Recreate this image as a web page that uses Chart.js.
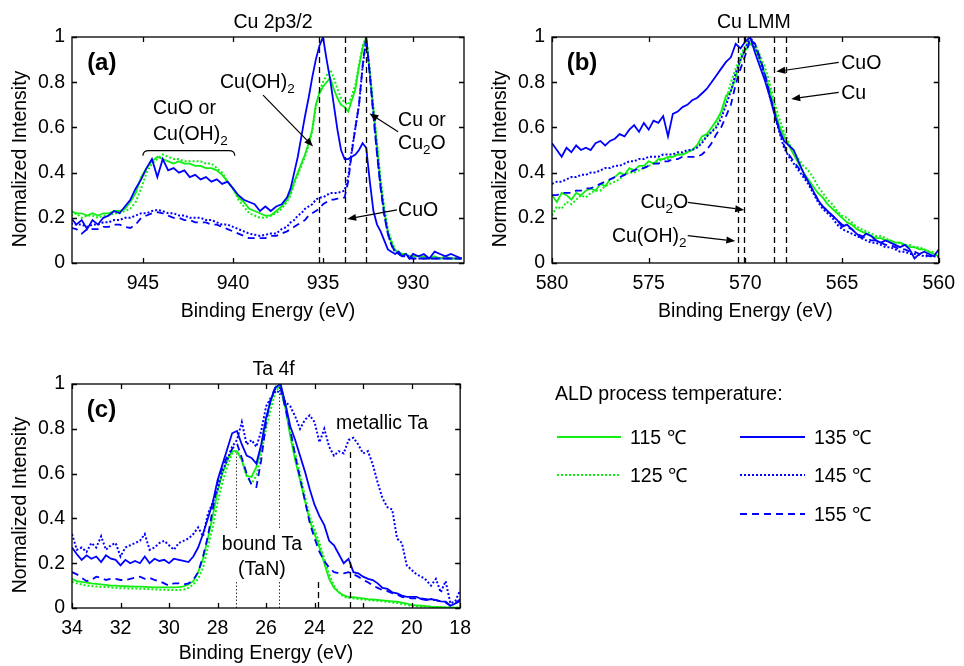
<!DOCTYPE html>
<html><head><meta charset="utf-8">
<script src="https://cdn.jsdelivr.net/npm/chart.js@4.4.1/dist/chart.umd.min.js"></script>
<style>
html,body{margin:0;padding:0;background:#fff;}
#wrap{position:relative;width:964px;height:666px;overflow:hidden;background:#fff;}
canvas{position:absolute;}
#legend{position:absolute;left:0;top:0;}
</style></head><body>
<div id="wrap">
<canvas id="ca" width="480" height="330" style="left:0;top:0;width:480px;height:330px"></canvas>
<canvas id="cb" width="484" height="330" style="left:480px;top:0;width:484px;height:330px"></canvas>
<canvas id="cc" width="480" height="326" style="left:0;top:340px;width:480px;height:326px"></canvas>
<svg id="legend" width="964" height="666" xmlns="http://www.w3.org/2000/svg"></svg>
</div>
<script>
// ---------------- DATA ----------------
const seriesLabels = ['115 \u2103', '125 \u2103', '135 \u2103', '145 \u2103', '155 \u2103'];
const legendTitle = 'ALD process temperature:';
const yTicks = [0, 0.2, 0.4, 0.6, 0.8, 1];

// Panel (a): Cu 2p3/2
const xTicksA = [945, 940, 935, 930];
const energyA = [949.0,948.7,948.4,948.1,947.8,947.5,947.2,946.9,946.6,946.3,
  946.0,945.7,945.4,945.1,944.8,944.5,944.2,943.9,943.6,943.3,
  943.0,942.7,942.4,942.1,941.8,941.5,941.2,940.9,940.6,940.3,
  940.0,939.7,939.4,939.1,938.8,938.5,938.2,937.9,937.6,937.3,
  937.0,936.8,936.6,936.4,936.2,936.0,935.8,935.6,935.4,935.2,
  935.0,934.8,934.6,934.4,934.2,934.0,933.8,933.6,933.4,933.2,
  933.0,932.8,932.6,932.4,932.2,932.0,931.8,931.6,931.4,931.2,
  931.0,930.8,930.6,930.4,930.2,930.0,929.7,929.4,929.1,928.8,
  928.5,928.2,927.9,927.6,927.3];
const a115 = [0.23,0.22,0.22,0.21,0.22,0.21,0.22,0.22,0.23,0.23,
  0.24,0.27,0.31,0.38,0.42,0.45,0.47,0.46,0.45,0.44,
  0.45,0.44,0.44,0.43,0.43,0.42,0.42,0.41,0.39,0.36,
  0.33,0.29,0.27,0.24,0.23,0.22,0.21,0.21,0.23,0.25,
  0.28,0.31,0.36,0.40,0.44,0.48,0.53,0.59,0.70,0.75,
  0.78,0.80,0.82,0.77,0.73,0.70,0.69,0.67,0.72,0.77,
  0.87,0.95,1.0,0.84,0.68,0.52,0.35,0.23,0.14,0.09,
  0.055,0.05,0.04,0.04,0.03,0.03,0.03,0.03,0.02,0.03,
  0.02,0.03,0.02,0.02,0.02];
const a125 = [0.21,0.22,0.20,0.21,0.21,0.20,0.21,0.21,0.22,0.22,
  0.23,0.24,0.27,0.33,0.40,0.44,0.46,0.48,0.47,0.46,
  0.46,0.45,0.45,0.45,0.45,0.44,0.44,0.42,0.40,0.36,
  0.33,0.28,0.25,0.22,0.21,0.20,0.20,0.21,0.22,0.24,
  0.27,0.30,0.35,0.39,0.43,0.47,0.52,0.58,0.69,0.76,
  0.80,0.83,0.855,0.82,0.77,0.73,0.71,0.70,0.74,0.79,
  0.88,0.96,1.0,0.85,0.69,0.53,0.37,0.25,0.15,0.10,
  0.06,0.05,0.04,0.04,0.03,0.03,0.03,0.02,0.02,0.02,
  0.02,0.02,0.02,0.02,0.02];
const a135 = [0.20,0.17,0.19,0.15,0.19,0.17,0.20,0.21,0.23,0.22,
  0.25,0.28,0.33,0.37,0.42,0.46,0.38,0.46,0.41,0.42,
  0.40,0.41,0.38,0.39,0.37,0.38,0.36,0.37,0.35,0.36,
  0.33,0.30,0.28,0.27,0.26,0.23,0.25,0.23,0.25,0.26,
  0.29,0.33,0.40,0.47,0.56,0.65,0.73,0.82,0.90,0.96,
  1.0,0.90,0.81,0.70,0.59,0.50,0.46,0.46,0.47,0.48,
  0.50,0.53,0.51,0.36,0.23,0.17,0.14,0.10,0.06,0.05,
  0.04,0.05,0.03,0.04,0.02,0.04,0.03,0.04,0.02,0.05,
  0.04,0.03,0.04,0.03,0.02];
const a145 = [0.175,0.17,0.17,0.16,0.17,0.17,0.18,0.18,0.19,0.19,
  0.20,0.20,0.21,0.22,0.22,0.23,0.235,0.23,0.22,0.22,
  0.21,0.21,0.20,0.20,0.20,0.19,0.19,0.18,0.17,0.17,
  0.16,0.15,0.14,0.13,0.125,0.12,0.125,0.13,0.13,0.15,
  0.16,0.18,0.19,0.21,0.22,0.24,0.25,0.26,0.28,0.29,
  0.29,0.30,0.31,0.31,0.31,0.315,0.32,0.38,0.50,0.60,
  0.70,0.87,0.99,0.84,0.66,0.49,0.34,0.22,0.13,0.08,
  0.05,0.04,0.03,0.03,0.03,0.02,0.02,0.02,0.02,0.02,
  0.02,0.02,0.02,0.02,0.02];
const a155 = [0.155,0.15,0.13,0.15,0.15,0.15,0.16,0.16,0.17,0.17,
  0.16,0.155,0.17,0.20,0.21,0.22,0.225,0.22,0.21,0.20,
  0.20,0.19,0.19,0.18,0.18,0.18,0.17,0.17,0.16,0.15,
  0.14,0.13,0.12,0.11,0.11,0.11,0.11,0.12,0.12,0.13,
  0.14,0.15,0.16,0.17,0.18,0.19,0.21,0.22,0.23,0.24,
  0.26,0.27,0.28,0.28,0.285,0.285,0.29,0.36,0.49,0.60,
  0.70,0.87,1.0,0.83,0.65,0.48,0.33,0.21,0.13,0.08,
  0.05,0.04,0.03,0.03,0.02,0.02,0.02,0.02,0.02,0.02,
  0.02,0.02,0.02,0.02,0.02];

// Panel (b): Cu LMM
const xTicksB = [580, 575, 570, 565, 560];
const energyB = [580.00,579.75,579.50,579.25,579.00,578.75,578.50,578.25,578.00,577.75,
  577.50,577.25,577.00,576.75,576.50,576.25,576.00,575.75,575.50,575.25,
  575.00,574.75,574.50,574.25,574.00,573.75,573.50,573.25,573.00,572.75,
  572.50,572.25,572.00,571.75,571.50,571.25,571.00,570.75,570.50,570.25,
  570.00,569.75,569.50,569.25,569.00,568.75,568.50,568.25,568.00,567.75,
  567.50,567.25,567.00,566.75,566.50,566.25,566.00,565.75,565.50,565.25,
  565.00,564.75,564.50,564.25,564.00,563.75,563.50,563.25,563.00,562.75,
  562.50,562.25,562.00,561.75,561.50,561.25,561.00,560.75,560.50,560.25,
  560.00];
const b115 = [0.30,0.27,0.31,0.30,0.28,0.31,0.30,0.32,0.33,0.32,
  0.35,0.34,0.37,0.38,0.40,0.39,0.42,0.41,0.43,0.43,
  0.45,0.44,0.46,0.46,0.47,0.47,0.48,0.48,0.49,0.50,
  0.52,0.56,0.57,0.60,0.63,0.67,0.74,0.76,0.82,0.90,
  0.94,0.97,0.95,0.90,0.84,0.77,0.68,0.61,0.56,0.52,
  0.48,0.44,0.40,0.37,0.34,0.31,0.29,0.26,0.24,0.22,
  0.20,0.18,0.17,0.15,0.14,0.13,0.12,0.11,0.11,0.10,
  0.10,0.09,0.09,0.08,0.07,0.07,0.06,0.06,0.05,0.04,
  0.03];
const b125 = [0.21,0.25,0.24,0.27,0.26,0.28,0.30,0.29,0.31,0.32,
  0.32,0.34,0.35,0.36,0.37,0.39,0.40,0.40,0.41,0.42,
  0.43,0.44,0.45,0.46,0.46,0.47,0.48,0.48,0.49,0.50,
  0.52,0.54,0.56,0.58,0.61,0.66,0.72,0.80,0.86,0.92,
  0.96,0.99,0.97,0.92,0.87,0.80,0.71,0.64,0.58,0.53,
  0.49,0.46,0.43,0.41,0.38,0.34,0.31,0.28,0.26,0.23,
  0.21,0.20,0.18,0.16,0.15,0.14,0.13,0.12,0.12,0.11,
  0.10,0.09,0.09,0.08,0.08,0.07,0.07,0.06,0.05,0.05,
  0.04];
const b135 = [0.53,0.50,0.47,0.51,0.49,0.52,0.50,0.51,0.50,0.53,
  0.54,0.52,0.54,0.55,0.57,0.56,0.59,0.61,0.58,0.62,
  0.59,0.63,0.62,0.65,0.56,0.66,0.67,0.69,0.70,0.72,
  0.73,0.75,0.77,0.80,0.83,0.86,0.89,0.91,0.97,0.95,
  0.98,1.00,0.93,0.87,0.81,0.74,0.66,0.59,0.54,0.52,
  0.50,0.45,0.40,0.36,0.32,0.28,0.25,0.23,0.21,0.19,
  0.16,0.17,0.15,0.13,0.11,0.13,0.12,0.10,0.09,0.10,
  0.09,0.08,0.07,0.08,0.06,0.02,0.04,0.05,0.04,0.03,
  0.06];
const b145 = [0.35,0.36,0.36,0.37,0.38,0.38,0.39,0.39,0.40,0.40,
  0.41,0.42,0.42,0.43,0.43,0.44,0.45,0.45,0.46,0.46,
  0.47,0.47,0.47,0.48,0.48,0.48,0.49,0.49,0.50,0.50,
  0.51,0.53,0.56,0.58,0.60,0.64,0.70,0.76,0.84,0.90,
  0.95,1.00,0.96,0.90,0.83,0.74,0.66,0.58,0.51,0.47,
  0.44,0.41,0.38,0.35,0.31,0.27,0.24,0.22,0.20,0.17,
  0.15,0.14,0.13,0.12,0.11,0.10,0.09,0.09,0.08,0.07,
  0.07,0.06,0.05,0.05,0.04,0.04,0.035,0.03,0.03,0.03,
  0.025];
const b155 = [0.30,0.30,0.31,0.31,0.31,0.32,0.32,0.33,0.33,0.34,
  0.35,0.36,0.37,0.38,0.38,0.39,0.40,0.41,0.42,0.42,
  0.43,0.44,0.44,0.45,0.45,0.46,0.46,0.47,0.47,0.47,
  0.47,0.48,0.50,0.53,0.57,0.60,0.65,0.70,0.79,0.86,
  0.92,0.99,0.97,0.91,0.84,0.75,0.67,0.59,0.52,0.48,
  0.45,0.42,0.39,0.36,0.32,0.28,0.25,0.23,0.21,0.19,
  0.17,0.16,0.15,0.13,0.12,0.11,0.10,0.10,0.09,0.08,
  0.08,0.07,0.06,0.06,0.05,0.05,0.04,0.04,0.03,0.03,
  0.03];

// Panel (c): Ta 4f
const xTicksC = [34, 32, 30, 28, 26, 24, 22, 20, 18];
const energyC = [34.0,33.8,33.6,33.4,33.2,33.0,32.8,32.6,32.4,32.2,
  32.0,31.8,31.6,31.4,31.2,31.0,30.8,30.6,30.4,30.2,
  30.0,29.8,29.6,29.4,29.2,29.0,28.8,28.6,28.4,28.2,
  28.0,27.8,27.6,27.4,27.2,27.0,26.8,26.6,26.4,26.2,
  26.0,25.8,25.6,25.4,25.2,25.0,24.8,24.6,24.4,24.2,
  24.0,23.8,23.6,23.4,23.2,23.0,22.8,22.6,22.4,22.2,
  22.0,21.8,21.6,21.4,21.2,21.0,20.8,20.6,20.4,20.2,
  20.0,19.8,19.6,19.4,19.2,19.0,18.8,18.6,18.4,18.2,
  18.0];
const c115 = [0.13,0.12,0.117,0.113,0.11,0.108,0.105,0.103,0.10,0.10,
  0.098,0.097,0.096,0.095,0.095,0.094,0.093,0.092,0.092,0.092,
  0.092,0.092,0.093,0.097,0.105,0.12,0.16,0.22,0.31,0.41,
  0.52,0.60,0.66,0.70,0.70,0.66,0.59,0.585,0.63,0.72,
  0.84,0.93,0.99,0.98,0.89,0.765,0.66,0.57,0.48,0.39,
  0.33,0.27,0.20,0.13,0.09,0.07,0.056,0.05,0.048,0.045,
  0.043,0.04,0.038,0.036,0.034,0.032,0.03,0.028,0.024,0.02,
  0.014,0.012,0.01,0.008,0.006,0.005,0.004,0.003,0.002,0.002,
  0.002];
const c125 = [0.117,0.11,0.105,0.10,0.098,0.096,0.095,0.094,0.092,0.09,
  0.088,0.088,0.087,0.087,0.086,0.085,0.084,0.083,0.082,0.081,
  0.08,0.08,0.08,0.082,0.09,0.105,0.13,0.18,0.27,0.36,
  0.47,0.56,0.63,0.69,0.70,0.66,0.59,0.555,0.59,0.69,
  0.80,0.89,0.97,0.99,0.91,0.78,0.69,0.60,0.50,0.41,
  0.35,0.29,0.22,0.15,0.10,0.07,0.05,0.045,0.043,0.04,
  0.038,0.036,0.034,0.032,0.03,0.028,0.025,0.022,0.018,0.014,
  0.01,0.008,0.007,0.006,0.005,0.004,0.003,0.002,0.002,0.001,
  0.001];
const c135 = [0.27,0.24,0.215,0.235,0.22,0.23,0.205,0.235,0.22,0.215,
  0.19,0.215,0.20,0.21,0.20,0.23,0.20,0.22,0.21,0.215,
  0.20,0.22,0.215,0.21,0.205,0.23,0.27,0.33,0.40,0.47,
  0.57,0.64,0.71,0.78,0.79,0.73,0.68,0.67,0.645,0.73,
  0.85,0.93,0.985,1.0,0.91,0.81,0.75,0.68,0.61,0.53,
  0.46,0.41,0.37,0.30,0.28,0.24,0.20,0.22,0.16,0.155,
  0.14,0.13,0.125,0.11,0.09,0.085,0.07,0.065,0.055,0.05,
  0.05,0.05,0.04,0.035,0.04,0.035,0.03,0.028,0.01,0.02,
  0.04];
const c145 = [0.33,0.26,0.27,0.25,0.29,0.27,0.32,0.26,0.28,0.29,
  0.23,0.27,0.28,0.29,0.30,0.33,0.26,0.27,0.29,0.30,
  0.28,0.26,0.29,0.30,0.31,0.33,0.36,0.32,0.42,0.47,
  0.53,0.61,0.66,0.72,0.75,0.83,0.73,0.75,0.72,0.79,
  0.90,0.94,0.97,0.96,0.92,0.90,0.855,0.80,0.84,0.86,
  0.83,0.74,0.80,0.72,0.68,0.70,0.69,0.75,0.76,0.73,
  0.69,0.70,0.64,0.56,0.49,0.45,0.44,0.31,0.29,0.19,
  0.17,0.15,0.14,0.125,0.10,0.13,0.07,0.12,0.02,0.03,
  0.08];
const c155 = [0.16,0.15,0.135,0.12,0.125,0.14,0.135,0.125,0.13,0.13,
  0.125,0.125,0.13,0.135,0.14,0.13,0.135,0.125,0.12,0.11,
  0.10,0.11,0.11,0.105,0.11,0.125,0.16,0.23,0.32,0.44,
  0.56,0.63,0.675,0.71,0.735,0.67,0.60,0.55,0.54,0.66,
  0.83,0.94,0.99,0.98,0.89,0.795,0.68,0.58,0.48,0.38,
  0.31,0.25,0.21,0.18,0.16,0.155,0.155,0.16,0.15,0.14,
  0.125,0.115,0.10,0.09,0.08,0.075,0.066,0.06,0.05,0.045,
  0.043,0.043,0.043,0.04,0.036,0.035,0.03,0.025,0.01,0.02,
  0.03];

// ---------------- STYLE ----------------
const FONT = '"Liberation Sans", Arial, Helvetica, sans-serif';
const FS = 19.5;
const GREEN = '#11ee11';
const BLUE = '#0000ff';
const STY = [
  {color: GREEN, dash: [], width: 1.8, order: 3},
  {color: GREEN, dash: [2, 2], width: 2, order: 4},
  {color: BLUE, dash: [], width: 1.8, order: 0},
  {color: BLUE, dash: [2, 2], width: 2, order: 1},
  {color: BLUE, dash: [7, 5], width: 1.8, order: 2}
];

function buildDatasets(energy, list) {
  return list.map((vals, i) => ({
    label: seriesLabels[i],
    data: energy.map((e, k) => ({x: e, y: vals[k]})),
    borderColor: STY[i].color,
    borderWidth: STY[i].width,
    borderDash: STY[i].dash,
    pointRadius: 0,
    fill: false,
    tension: 0,
    order: STY[i].order
  }));
}

function drawRich(ctx, parts, x, y, align) {
  const main = FS + 'px ' + FONT, sub = '13.5px ' + FONT;
  let total = 0;
  parts.forEach(p => { ctx.font = p[1] ? sub : main; total += ctx.measureText(p[0]).width; });
  let cx = align === 'center' ? x - total / 2 : x;
  ctx.textAlign = 'left';
  ctx.textBaseline = 'alphabetic';
  parts.forEach(p => {
    ctx.font = p[1] ? sub : main;
    ctx.fillText(p[0], cx, p[1] ? y + 5 : y);
    cx += ctx.measureText(p[0]).width;
  });
}

function arrow(ctx, x0, y0, x1, y1) {
  const ang = Math.atan2(y1 - y0, x1 - x0), L = 9, W = 3.5;
  const bx = x1 - L * Math.cos(ang), by = y1 - L * Math.sin(ang);
  ctx.beginPath(); ctx.moveTo(x0, y0); ctx.lineTo(bx, by); ctx.stroke();
  ctx.beginPath();
  ctx.moveTo(x1, y1);
  ctx.lineTo(bx + W * Math.sin(ang), by - W * Math.cos(ang));
  ctx.lineTo(bx - W * Math.sin(ang), by + W * Math.cos(ang));
  ctx.closePath(); ctx.fill();
}

function annotPlugin(spec) {
  return {
    id: 'annot',
    afterDatasetsDraw(chart) {
      const {ctx, scales: {x, y}} = chart;
      const X = e => x.getPixelForValue(e), Y = v => y.getPixelForValue(v);
      ctx.save();
      (spec.vlines || []).forEach(l => {
        ctx.beginPath();
        ctx.setLineDash(l.dash); ctx.lineWidth = l.w; ctx.strokeStyle = l.c;
        const px = Math.round(X(l.e)) + 0.5;
        l.segs.forEach(s => { ctx.moveTo(px, Y(s[0])); ctx.lineTo(px, Y(s[1])); });
        ctx.stroke();
      });
      ctx.setLineDash([]);
      ctx.strokeStyle = '#000'; ctx.fillStyle = '#000'; ctx.lineWidth = 1.2;
      (spec.arrows || []).forEach(a => arrow(ctx, X(a[0]), Y(a[1]), X(a[2]), Y(a[3])));
      if (spec.brace) {
        const b = spec.brace, x0 = X(b.e0), x1 = X(b.e1), yt = Y(b.vTop), ye = Y(b.vEnd);
        ctx.beginPath();
        ctx.moveTo(x0, ye); ctx.quadraticCurveTo(x0, yt, x0 + 6, yt);
        ctx.lineTo(x1 - 6, yt); ctx.quadraticCurveTo(x1, yt, x1, ye);
        ctx.stroke();
      }
      (spec.texts || []).forEach(t => drawRich(ctx, t.parts, X(t.e), Y(t.v), t.align));
      ctx.font = 'bold 24px ' + FONT; ctx.textAlign = 'left'; ctx.textBaseline = 'alphabetic';
      ctx.fillText(spec.label.t, X(spec.label.e), Y(spec.label.v));
      ctx.restore();
    },
    afterDraw(chart) {
      const {ctx, chartArea: a, scales: {x, y}} = chart;
      ctx.save();
      ctx.strokeStyle = '#000'; ctx.lineWidth = 1.3; ctx.setLineDash([]);
      ctx.strokeRect(a.left, a.top, a.right - a.left, a.bottom - a.top);
      const L = 5;
      ctx.beginPath();
      x.ticks.forEach(t => {
        const px = Math.round(x.getPixelForValue(t.value)) + 0.5;
        ctx.moveTo(px, a.bottom); ctx.lineTo(px, a.bottom - L);
        ctx.moveTo(px, a.top); ctx.lineTo(px, a.top + L);
      });
      y.ticks.forEach(t => {
        const py = Math.round(y.getPixelForValue(t.value)) + 0.5;
        ctx.moveTo(a.left, py); ctx.lineTo(a.left + L, py);
        ctx.moveTo(a.right, py); ctx.lineTo(a.right - L, py);
      });
      ctx.stroke();
      ctx.fillStyle = '#000';
      ctx.font = FS + 'px ' + FONT;
      ctx.textAlign = 'center'; ctx.textBaseline = 'alphabetic';
      ctx.fillText(spec.title, (a.left + a.right) / 2 + spec.titleDx, a.top - 9);
      ctx.translate(a.left - 51, (a.top + a.bottom) / 2 + 9);
      ctx.rotate(-Math.PI / 2);
      ctx.textBaseline = 'middle';
      ctx.fillText('Normalized Intensity', 0, 0);
      ctx.restore();
    }
  };
}

function makeChart(id, energy, list, xMin, xMax, xTicks, padRight, padTop, xAxisH, titlePadB, spec) {
  const font = {family: FONT, size: FS};
  return new Chart(document.getElementById(id), {
    type: 'line',
    data: {datasets: buildDatasets(energy, list)},
    options: {
      responsive: false, animation: false, devicePixelRatio: 1,
      layout: {padding: {left: 0, right: padRight, top: padTop, bottom: 0}},
      plugins: {legend: {display: false}, tooltip: {enabled: false}, title: {display: false}},
      scales: {
        x: {
          type: 'linear', reverse: true, min: xMin, max: xMax,
          afterBuildTicks: s => { s.ticks = xTicks.map(v => ({value: v})); },
          afterFit: s => { s.height = xAxisH; },
          grid: {display: false, drawTicks: false}, border: {display: false},
          ticks: {font, color: '#000', padding: 9, autoSkip: false, maxRotation: 0, callback: v => String(v)},
          title: {display: true, text: 'Binding Energy (eV)', font, color: '#000', padding: {top: 0, bottom: titlePadB}}
        },
        y: {
          min: 0, max: 1,
          afterBuildTicks: s => { s.ticks = yTicks.map(v => ({value: v})); },
          afterFit: s => { s.width = 72; },
          grid: {display: false, drawTicks: false}, border: {display: false},
          ticks: {font, color: '#000', padding: 7, callback: v => String(v)}
        }
      }
    },
    plugins: [annotPlugin(spec)]
  });
}

const dashBlack = {dash: [6, 4], w: 1.3, c: '#000'};
const dotBlack = {dash: [1.5, 2], w: 1, c: '#333'};

makeChart('ca', energyA, [a115, a125, a135, a145, a155], 927.17, 948.94, xTicksA, 16, 37, 67, 7, {
  title: 'Cu 2p3/2', titleDx: 5,
  label: {t: '(a)', e: 948.1, v: 0.854},
  vlines: [935.22, 933.78, 932.6].map(e => Object.assign({e, segs: [[0, 1]]}, dashBlack)),
  texts: [
    {e: 940.72, v: 0.776, parts: [['Cu(OH)'], ['2', 1]]},
    {e: 944.44, v: 0.658, parts: [['CuO or']]},
    {e: 944.44, v: 0.544, parts: [['Cu(OH)'], ['2', 1]]},
    {e: 930.83, v: 0.606, parts: [['Cu or']]},
    {e: 930.83, v: 0.503, parts: [['Cu'], ['2', 1], ['O']]},
    {e: 930.83, v: 0.208, parts: [['CuO']]}
  ],
  arrows: [
    [938.33, 0.743, 935.55, 0.515],
    [930.83, 0.581, 932.42, 0.662],
    [930.89, 0.235, 933.66, 0.195]
  ],
  brace: {e0: 945.0, e1: 939.9, vTop: 0.497, vEnd: 0.475}
});

makeChart('cb', energyB, [b115, b125, b135, b145, b155], 560, 580, xTicksB, 19, 37, 67, 7, {
  title: 'Cu LMM', titleDx: 8.5,
  label: {t: '(b)', e: 579.24, v: 0.854},
  vlines: [570.4, 570.05, 568.5, 567.9].map(e => Object.assign({e, segs: [[0, 1]]}, dashBlack)),
  texts: [
    {e: 565.04, v: 0.858, parts: [['CuO']]},
    {e: 565.04, v: 0.726, parts: [['Cu']]},
    {e: 575.42, v: 0.242, parts: [['Cu'], ['2', 1], ['O']]},
    {e: 576.90, v: 0.094, parts: [['Cu(OH)'], ['2', 1]]}
  ],
  arrows: [
    [565.17, 0.888, 568.40, 0.847],
    [565.17, 0.755, 567.63, 0.726],
    [572.98, 0.268, 570.06, 0.235],
    [572.98, 0.121, 570.52, 0.097]
  ]
});

makeChart('cc', energyC, [c115, c125, c135, c145, c155], 18, 34, xTicksC, 17, 44, 58, 1, {
  title: 'Ta 4f', titleDx: 7.5,
  label: {t: '(c)', e: 33.39, v: 0.853},
  vlines: [
    Object.assign({e: 27.22, segs: [[0, 0.116], [0.357, 0.69]]}, dotBlack),
    Object.assign({e: 25.48, segs: [[0, 0.116], [0.357, 1]]}, dotBlack),
    Object.assign({e: 23.84, segs: [[0, 0.125]]}, dashBlack),
    Object.assign({e: 22.56, segs: [[0, 0.71]]}, dashBlack)
  ],
  texts: [
    {e: 23.12, v: 0.80, parts: [['metallic Ta']]},
    {e: 26.17, v: 0.259, parts: [['bound Ta']], align: 'center'},
    {e: 26.17, v: 0.147, parts: [['(TaN)']], align: 'center'}
  ],
  arrows: []
});

// ---------------- LEGEND (SVG) ----------------
(function () {
  const svg = document.getElementById('legend');
  const NS = 'http://www.w3.org/2000/svg';
  const slots = [[557, 621, 630, 437], [557, 621, 630, 475], [740, 805, 814, 437], [740, 805, 814, 475], [740, 805, 814, 514]];
  function txt(s, x, y) {
    const t = document.createElementNS(NS, 'text');
    t.setAttribute('x', x); t.setAttribute('y', y);
    t.setAttribute('font-family', 'Liberation Sans, Arial, sans-serif');
    t.setAttribute('font-size', FS); t.setAttribute('fill', '#000');
    t.textContent = s; svg.appendChild(t);
  }
  txt(legendTitle, 555, 399.5);
  seriesLabels.forEach((lab, i) => {
    const [x0, x1, tx, y] = slots[i];
    const l = document.createElementNS(NS, 'line');
    l.setAttribute('x1', x0); l.setAttribute('x2', x1);
    l.setAttribute('y1', y); l.setAttribute('y2', y);
    l.setAttribute('stroke', STY[i].color); l.setAttribute('stroke-width', STY[i].width);
    if (STY[i].dash.length) l.setAttribute('stroke-dasharray', STY[i].dash.join(','));
    svg.appendChild(l);
    txt(lab, tx, y + 7);
  });
})();
</script>
</body></html>
